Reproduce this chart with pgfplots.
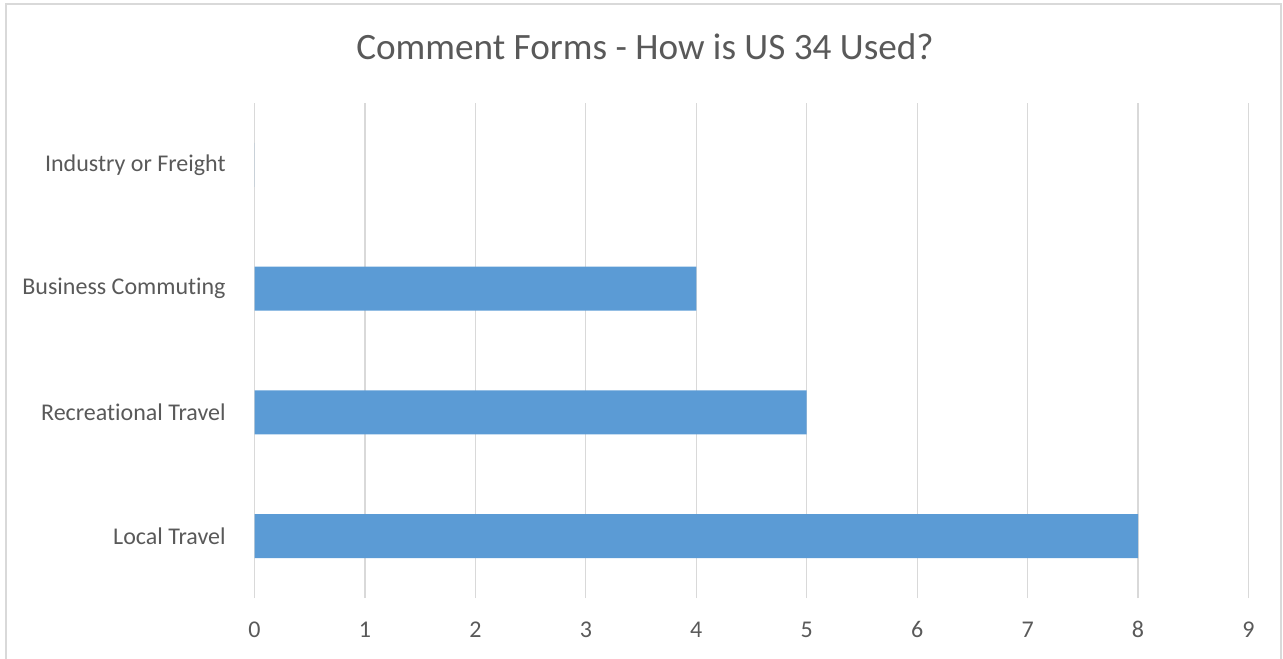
\documentclass[border=0pt]{standalone}
\usepackage{pgfplots}
\pgfplotsset{compat=1.18}
\usepackage{fontspec}
\setmainfont{Carlito}[Ligatures={NoCommon}]
\definecolor{barblue}{HTML}{5B9BD5}
\definecolor{gridgray}{HTML}{D9D9D9}
\definecolor{txtgray}{HTML}{595959}
\begin{document}
\begin{tikzpicture}
\useasboundingbox (0,0) rectangle (641.5pt,329pt);
\draw[gridgray, line width=1pt] (3pt,-3pt) rectangle (640.5pt,327pt);
\node[txtgray, font=\fontsize{18.6pt}{22pt}\selectfont, anchor=center] at (322.5pt,305.5pt) {Comment Forms - How is US 34 Used?};
\begin{axis}[
  at={(127.25pt,30pt)}, anchor=south west,
  scale only axis, width=497pt, height=247.5pt,
  xbar, bar width=22pt,
  xmin=0, xmax=9, ymin=-0.5, ymax=3.5,
  xtick={0,1,2,3,4,5,6,7,8,9},
  ytick={0,1,2,3},
  yticklabels={Local Travel, Recreational Travel, Business Commuting, Industry or Freight},
  axis line style={draw=none},
  major tick length=0pt,
  xmajorgrids, grid style={gridgray, line width=0.6pt},
  tick label style={txtgray, font=\fontsize{12pt}{14pt}\selectfont, inner sep=0pt},
  xticklabel style={anchor=center, yshift=-15.75pt},
  yticklabel style={anchor=east, xshift=-14.25pt},
  /pgf/number format/assume math mode=true,
]
\addplot[fill=barblue, draw=none] coordinates {(8,0) (5,1) (4,2) (0,3)};
\end{axis}
\end{tikzpicture}
\end{document}
